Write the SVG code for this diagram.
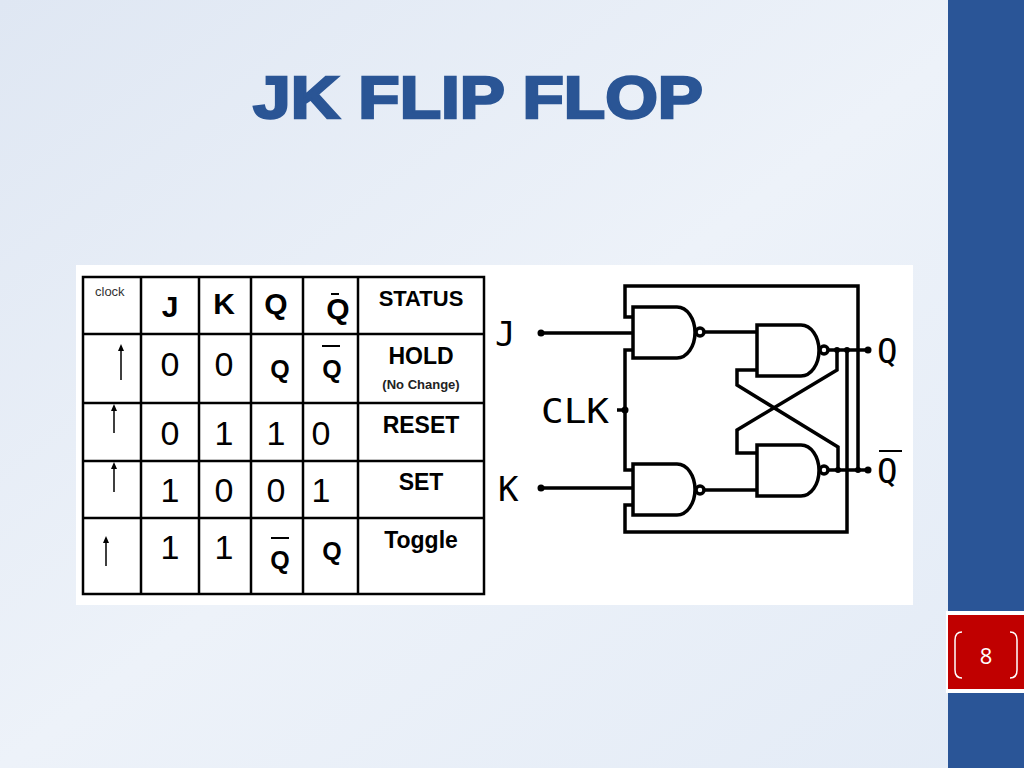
<svg xmlns="http://www.w3.org/2000/svg" width="1024" height="768" viewBox="0 0 1024 768">
<defs>
<linearGradient id="bg" x1="0" y1="0" x2="1" y2="1">
<stop offset="0" stop-color="#dfe7f3"/><stop offset="0.5" stop-color="#edf2f9"/><stop offset="1" stop-color="#e3ebf6"/>
</linearGradient>
<g id="nand"><path d="M0,0 H44 A18,25.5 0 0 1 44,51 H0 Z"/></g>
</defs>
<style>
.w{fill:none;stroke:#000;stroke-width:3.5}
.g{fill:#fff;stroke:#000;stroke-width:3.5}
.t{font-family:"Liberation Sans",Arial,sans-serif;fill:#000}
.b{font-weight:bold}
.c{font-family:"DejaVu Sans Mono","Liberation Mono",monospace;fill:#000}
</style>
<rect width="1024" height="768" fill="url(#bg)"/>
<rect x="948" y="0" width="76" height="768" fill="#2a5597"/>
<rect x="946" y="611" width="78" height="82" fill="#fff"/>
<rect x="948" y="615" width="76" height="74" fill="#c00000"/>
<path d="M962,632 Q955,632 955,640 V670 Q955,678 962,678 M1010,632 Q1017,632 1017,640 V670 Q1017,678 1010,678" fill="none" stroke="#fff" stroke-width="1.5"/>
<text x="986" y="664" text-anchor="middle" font-family="'Open Sans','Liberation Sans',sans-serif" font-size="22" fill="#fff">8</text>
<text x="253" y="118" textLength="450" lengthAdjust="spacingAndGlyphs" font-family="'Liberation Sans',Arial,sans-serif" font-weight="bold" font-size="60" fill="#2a5595" stroke="#2a5595" stroke-width="2.5">JK FLIP FLOP</text>
<rect x="76" y="265" width="837" height="340" fill="#fff"/>
<g id="table">
<g fill="none" stroke="#000" stroke-width="2.5">
<rect x="83" y="277" width="401" height="317"/>
<path d="M141,277V594M199,277V594M251,277V594M303,277V594M358,277V594M83,334H484M83,403H484M83,461H484M83,518H484"/>
</g>
<g class="t">
<text x="95" y="296" font-size="13" fill="#333">clock</text>
<g class="b" font-size="30" text-anchor="middle">
<text x="170" y="317">J</text><text x="224" y="314">K</text><text x="276" y="314">Q</text><text x="338" y="319">Q</text>
</g>
<text x="421" y="306" class="b" font-size="22" text-anchor="middle">STATUS</text>
<g font-size="34" text-anchor="middle">
<text x="170" y="376">0</text><text x="224" y="376">0</text>
<text x="170" y="445">0</text><text x="224" y="445">1</text><text x="276" y="445">1</text><text x="321" y="445">0</text>
<text x="170" y="502">1</text><text x="224" y="502">0</text><text x="276" y="502">0</text><text x="321" y="502">1</text>
<text x="170" y="559">1</text><text x="224" y="559">1</text>
</g>
<g class="b" font-size="25" text-anchor="middle">
<text x="280" y="378">Q</text><text x="332" y="378">Q</text>
<text x="280" y="569">Q</text><text x="332" y="560">Q</text>
</g>
<path d="M331,294H339M322,346H340M271,538H289" stroke="#000" stroke-width="2"/>
<g class="b" font-size="23" text-anchor="middle">
<text x="421" y="364">HOLD</text><text x="421" y="433">RESET</text><text x="421" y="490">SET</text><text x="421" y="548">Toggle</text>
</g>
<text x="421" y="389" class="b" font-size="13" text-anchor="middle" fill="#222">(No Change)</text>
</g>
<g stroke="#000" stroke-width="1.5">
<path d="M121,380V350M114,433V410M114,492V468M106,566V542"/>
</g>
<g fill="#000"><path d="M121,344l-3,7h6zM114,404l-3,7h6zM114,462l-3,7h6zM106,536l-3,7h6z"/></g>
</g>
<g id="connectors" class="w">
<path d="M541,333H633M541,488H633"/>
<path d="M633,317H625V286H858V470"/>
<path d="M633,505H625V532H847V350"/>
<path d="M633,350H625V470H633M617,410H625"/>
<path d="M704,332H757M704,490H757"/>
<path d="M828,350H868M828,470H868"/>
<path d="M757,370H737V385L838,447V470"/>
<path d="M837,350V370L737,430V453H757"/>
</g>
<g fill="#000">
<circle cx="541" cy="333" r="3.5"/><circle cx="541" cy="488" r="3.5"/><circle cx="625" cy="410" r="3.5"/>
<circle cx="868" cy="350" r="3.5"/><circle cx="868" cy="470" r="3.5"/>
<circle cx="837" cy="350" r="3"/><circle cx="838" cy="470" r="3"/><circle cx="858" cy="470" r="3"/><circle cx="847" cy="350" r="3"/>
</g>
<g id="gate1"><use href="#nand" x="633" y="307" class="g"/><circle cx="700" cy="332" r="4" class="g"/></g>
<g id="gate2"><use href="#nand" x="633" y="464" class="g"/><circle cx="700" cy="490" r="4" class="g"/></g>
<g id="gate3"><use href="#nand" x="757" y="325" class="g"/><circle cx="824" cy="350" r="4" class="g"/></g>
<g id="gate4"><use href="#nand" x="757" y="445" class="g"/><circle cx="824" cy="470" r="4" class="g"/></g>
<g class="c" font-size="34">
<text x="495" y="346">J</text><text x="498" y="501">K</text>
<text x="541" y="423" textLength="68" lengthAdjust="spacingAndGlyphs">CLK</text>
<text x="877" y="363">Q</text><text x="877" y="483">Q</text>
</g>
<path d="M879,451H902" stroke="#000" stroke-width="2"/>
</svg>
